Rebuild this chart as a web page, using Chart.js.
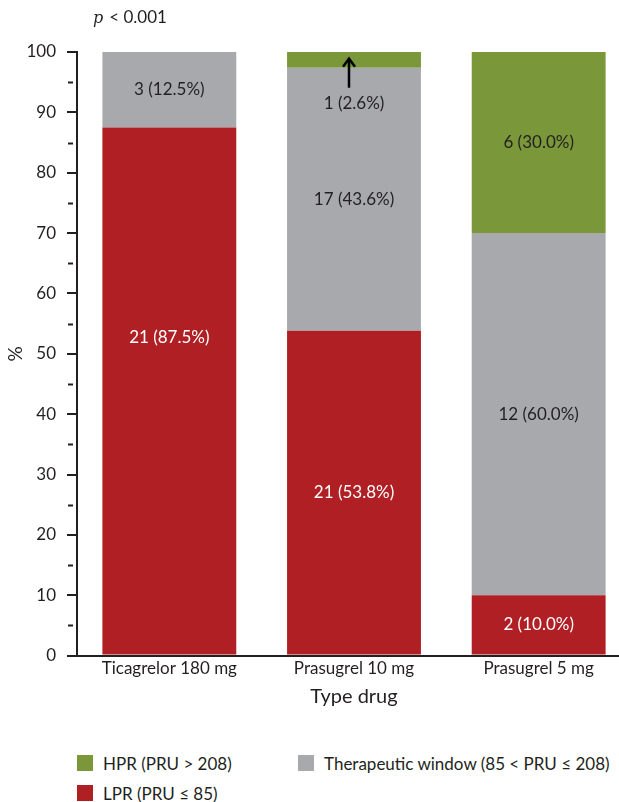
<!DOCTYPE html>
<html lang="en">
<head>
  <meta charset="UTF-8">
  <title>Type drug</title>
  <script src="https://cdn.jsdelivr.net/npm/chart.js"></script>
  <style>
    body { margin: 0; background: #fff; font-family: Lato, sans-serif; color: #231f20; overflow: hidden; }
    #wrap { position: relative; width: 619px; height: 802px; overflow: hidden; }
    #pval { position: absolute; left: 93px; top: 6px; font-size: 17px; }
    #pval i { font-family: "DejaVu Serif", serif; font-size: 16px; margin-right: 6px; }
    #legend { position: absolute; left: 0; top: 0; font-size: 17px; }
    .item { position: absolute; display: flex; align-items: center; white-space: nowrap; height: 24px; }
    .sw { width: 16px; height: 16px; margin-right: 10px; }
  </style>
</head>
<body>
<div id="wrap">
  <canvas id="chart" width="631" height="713"></canvas>
  <div id="pval"><i>p</i>&lt; 0.001</div>
  <div id="legend"></div>
</div>
<script>
  // categories and stacked percentages (LPR at bottom, HPR on top)
  const drugs = ["Ticagrelor 180 mg", "Prasugrel 10 mg", "Prasugrel 5 mg"];
  const lprPct = [87.5, 53.8, 10.0];
  const windowPct = [12.5, 43.6, 60.0];
  const hprPct = [0, 2.6, 30.0];
  const lprN = [21, 21, 2];
  const windowN = [3, 17, 12];
  const hprN = [0, 1, 6];
  const yTicks = [0, 10, 20, 30, 40, 50, 60, 70, 80, 90, 100];

  const RED = "#b01f24", GREY = "#a7a9ac", GREEN = "#7a973a";
  const TEXT = "#231f20";

  const datasets = [
    { label: "LPR (PRU ≤ 85)", data: lprPct, counts: lprN, backgroundColor: RED, textColor: "#fff" },
    { label: "Therapeutic window (85 < PRU ≤ 208)", data: windowPct, counts: windowN, backgroundColor: GREY, textColor: TEXT },
    { label: "HPR (PRU > 208)", data: hprPct, counts: hprN, backgroundColor: GREEN, textColor: TEXT }
  ];

  // legend as in the figure: HPR and window on one row, LPR below
  const legend = document.getElementById('legend');
  const spots = [[77, 781], [298, 751], [77, 751]];
  [2, 1, 0].forEach(i => {
    const d = datasets[i];
    const [lx, ly] = spots[i];
    legend.innerHTML += `<span class="item" style="left:${lx}px;top:${ly}px"><span class="sw" style="background:${d.backgroundColor}"></span>${d.label}</span>`;
  });

  // value labels inside the segments, minor ticks, arrow
  const segLabels = {
    id: 'segLabels',
    afterDatasetsDraw(chart) {
      const ctx = chart.ctx;
      const y = chart.scales.y;
      ctx.save();
      ctx.font = '17px Lato';
      ctx.textAlign = 'center';
      ctx.textBaseline = 'middle';
      chart.data.datasets.forEach((ds, di) => {
        const meta = chart.getDatasetMeta(di);
        meta.data.forEach((bar, i) => {
          const n = ds.counts[i];
          if (!n) return;
          const txt = n + ' (' + ds.data[i].toFixed(1) + '%)';
          let cy = (bar.y + bar.base) / 2;
          let color = ds.textColor;
          if (di === 0 && i === 0) cy = y.getPixelForValue(52.7);
          if (ds.data[i] < 5) {
            // too thin: label goes in the grey part with an arrow up
            cy = bar.base + 36;
            color = TEXT;
            const ax = bar.x - 5;
            ctx.strokeStyle = '#000';
            ctx.lineWidth = 2.5;
            ctx.beginPath();
            ctx.moveTo(ax, cy - 16);
            ctx.lineTo(ax, bar.base - 8);
            ctx.stroke();
            ctx.beginPath();
            ctx.moveTo(ax - 6, bar.base - 1);
            ctx.lineTo(ax, bar.base - 9);
            ctx.lineTo(ax + 6, bar.base - 1);
            ctx.stroke();
          }
          ctx.fillStyle = color;
          ctx.fillText(txt, bar.x, cy);
        });
      });
      // minor ticks at the fives
      ctx.strokeStyle = '#231f20';
      ctx.lineWidth = 2;
      for (let i = 0; i < yTicks.length - 1; i++) {
        const py = Math.round(y.getPixelForValue((yTicks[i] + yTicks[i + 1]) / 2)) + 0.5;
        ctx.beginPath();
        ctx.moveTo(y.right - 9, py);
        ctx.lineTo(y.right - 4, py);
        ctx.stroke();
      }
      ctx.restore();
    }
  };

  new Chart(document.getElementById('chart'), {
    type: 'bar',
    data: { labels: drugs, datasets: datasets },
    options: {
      responsive: false,
      animation: false,
      layout: { padding: { top: 52, right: 0, left: 0, bottom: 0 } },
      plugins: { legend: { display: false }, tooltip: { enabled: false } },
      datasets: { bar: { barPercentage: 1, categoryPercentage: 0.725, borderWidth: 0 } },
      scales: {
        x: {
          stacked: true,
          grid: { display: false, drawTicks: false },
          border: { color: '#231f20', width: 2 },
          ticks: { color: TEXT, font: { family: 'Lato', size: 17 }, padding: 3 },
          title: { display: true, text: 'Type drug', color: TEXT, font: { family: 'Lato', size: 20 }, padding: { top: 3 } }
        },
        y: {
          stacked: true,
          min: 0,
          max: 100,
          afterBuildTicks: s => { s.ticks = yTicks.map(v => ({ value: v })); },
          afterFit: s => { s.width = 77; },
          grid: { drawOnChartArea: false, tickLength: 10, color: '#231f20', lineWidth: 2 },
          border: { color: '#231f20', width: 2 },
          ticks: { color: TEXT, font: { family: 'Lato', size: 17 }, padding: 11 },
          title: { display: true, text: '%', color: TEXT, font: { family: 'Lato', size: 19 }, padding: 4 }
        }
      }
    },
    plugins: [segLabels]
  });
</script>
</body>
</html>
